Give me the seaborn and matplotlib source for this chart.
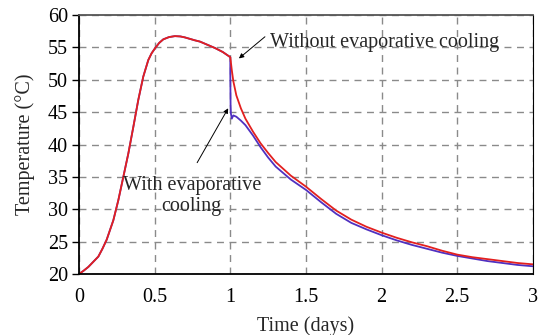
import numpy as np
import pandas as pd
import matplotlib
matplotlib.use("Agg")
import matplotlib.pyplot as plt
import seaborn as sns

# ---- data ----
time_heat = [0, 0.03, 0.062, 0.095, 0.128, 0.155, 0.183, 0.205, 0.227, 0.26, 0.293, 0.326,
             0.359, 0.392, 0.425, 0.458, 0.48, 0.502, 0.53, 0.557, 0.595, 0.634, 0.67,
             0.70, 0.766, 0.8, 0.85, 0.9, 0.95, 1.0]
temp_heat = [20, 20.5, 21.1, 21.9, 22.7, 23.9, 25.3, 26.8, 28.3, 31.4, 35.0, 38.6,
             42.7, 46.9, 50.5, 53.05, 54.1, 54.85, 55.7, 56.25, 56.6, 56.75, 56.7,
             56.55, 56.1, 55.9, 55.4, 54.9, 54.3, 53.5]

time_without = [1.0, 1.005, 1.01, 1.02, 1.04, 1.07, 1.1, 1.15, 1.2, 1.25, 1.3, 1.4, 1.5,
                1.6, 1.7, 1.8, 1.9, 2.0, 2.1, 2.2, 2.3, 2.4, 2.5, 2.6, 2.7, 2.8, 2.9, 3.0]
temp_without = [53.5, 52.5, 51.5, 49.8, 47.6, 45.6, 44.0, 42.0, 40.2, 38.7, 37.3, 35.2, 33.5,
                31.6, 29.8, 28.4, 27.3, 26.4, 25.6, 24.9, 24.3, 23.6, 23.0, 22.6, 22.3, 22.0, 21.7, 21.5]

time_with = [1.0, 1.0, 1.002, 1.004, 1.01, 1.02, 1.04, 1.07, 1.1, 1.15, 1.2, 1.25, 1.3, 1.4, 1.5,
             1.6, 1.7, 1.8, 1.9, 2.0, 2.1, 2.2, 2.3, 2.4, 2.5, 2.6, 2.7, 2.8, 2.9, 3.0]
temp_with = [53.5, 51.0, 46.0, 44.8, 44.0, 44.5, 44.3, 43.7, 43.0, 41.4, 39.6, 38.0, 36.6, 34.6, 33.0,
             31.1, 29.3, 27.9, 26.9, 26.0, 25.2, 24.5, 23.9, 23.3, 22.8, 22.4, 22.0, 21.7, 21.4, 21.2]

x_ticks = [0, 0.5, 1, 1.5, 2, 2.5, 3]
x_tick_labels = ["0", "0.5", "1", "1.5", "2", "2.5", "3"]
y_ticks = [20, 25, 30, 35, 40, 45, 50, 55, 60]

df_red = pd.DataFrame({"t": time_heat + time_without[1:], "T": temp_heat + temp_without[1:]})
df_blue = pd.DataFrame({"t": time_heat + time_with[1:], "T": temp_heat + temp_with[1:]})

sns.set_style("white")
plt.rcParams["font.family"] = ["Liberation Serif", "DejaVu Serif"]
fs = 14.5

fig = plt.figure(figsize=(5.41, 3.35), dpi=100)
ax = fig.add_axes([0.146, 0.182, 0.839, 0.773])

sns.lineplot(data=df_blue, x="t", y="T", ax=ax, color="#5030c0", lw=1.3,
             sort=False, estimator=None)
sns.lineplot(data=df_red, x="t", y="T", ax=ax, color="#e3201f", lw=1.3,
             sort=False, estimator=None)

ax.set_xlim(0, 3)
ax.set_ylim(20, 60)
ax.set_xticks(x_ticks)
ax.set_xticklabels(x_tick_labels)
ax.set_yticks(y_ticks)
ax.tick_params(axis="both", labelsize=fs, colors="black")
ax.tick_params(axis="x", length=0, pad=10)
ax.tick_params(axis="y", length=5, width=1, direction="out", left=True, pad=3)

ax.grid(True, color="#8a8a8a", linestyle=(0, (5, 4)), lw=1.0)
ax.set_axisbelow(True)

for s in ["left", "bottom"]:
    ax.spines[s].set_color("black")
    ax.spines[s].set_linewidth(1.3)
ax.spines["top"].set_color("#555555")
ax.spines["top"].set_linewidth(1.3)
ax.spines["right"].set_color("black")
ax.spines["right"].set_linewidth(0.8)

ax.set_xlabel("Time (days)", fontsize=fs, labelpad=7)
ax.set_ylabel("Temperature (°C)", fontsize=fs, labelpad=9)

arrow = dict(arrowstyle="-|>", color="black", lw=0.7, mutation_scale=7,
             shrinkA=0, shrinkB=0)
ax.annotate("", xy=(1.057, 53.3), xytext=(1.229, 56.65), arrowprops=arrow)
ax.text(1.262, 55.7, "Without evaporative cooling", fontsize=fs, ha="left", va="center")
ax.annotate("", xy=(0.986, 45.6), xytext=(0.781, 37.2), arrowprops=arrow)
ax.text(0.745, 32.1, "With evaporative\ncooling", fontsize=fs, ha="center", va="center",
        linespacing=1.15)

fig.savefig("out.png", dpi=100)
